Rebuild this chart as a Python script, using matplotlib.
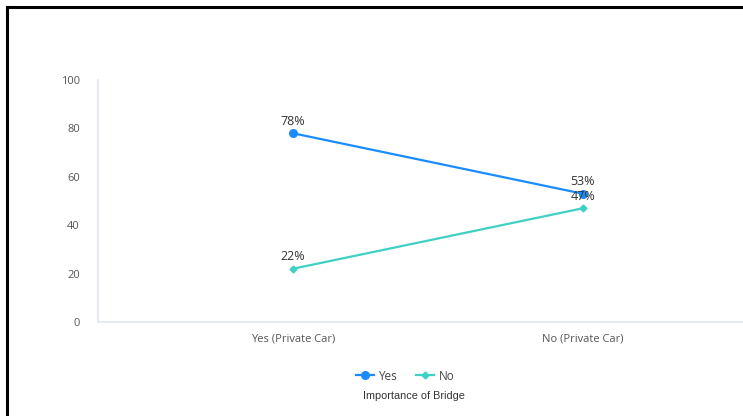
import matplotlib
matplotlib.use("Agg")
import matplotlib.pyplot as plt
from matplotlib.lines import Line2D

categories = ["Yes (Private Car)", "No (Private Car)"]
yes_vals = [78, 53]
no_vals = [22, 47]
yticks = [0, 20, 40, 60, 80, 100]

plt.rcParams['font.family'] = ['Open Sans', 'DejaVu Sans']

fig = plt.figure(figsize=(7.43, 4.16), dpi=100)
ax = fig.add_axes([98/743, 1-322/416, 1-98/743, (322-80)/416])

x = list(range(len(categories)))
c_yes = "#1a8cff"
c_no = "#3fd1c4"
ax.plot(x, yes_vals, color=c_yes, lw=1.6, marker="o", ms=5.5, label="Yes")
ax.plot(x, no_vals, color=c_no, lw=1.6, marker="D", ms=3.5, label="No")

for xi, v in zip(x, yes_vals):
    ax.annotate(f"{v}%", (xi, v), xytext=(0, 4), textcoords="offset points",
                ha="center", va="bottom", fontsize=9, color="#333333")
for xi, v in zip(x, no_vals):
    ax.annotate(f"{v}%", (xi, v), xytext=(0, 4), textcoords="offset points",
                ha="center", va="bottom", fontsize=9, color="#333333")

ax.set_ylim(0, 100)
ax.set_xlim(-0.672, 1.552)
ax.set_yticks(yticks)
ax.set_xticks(x)
ax.set_xticklabels(categories)
ax.tick_params(axis="both", length=0, labelsize=8, colors="#555555")
ax.tick_params(axis="y", pad=13)
ax.tick_params(axis="x", pad=8)
for s in ["top", "right"]:
    ax.spines[s].set_visible(False)
for s in ["left", "bottom"]:
    ax.spines[s].set_color("#dfe5f2")
    ax.spines[s].set_linewidth(1.2)

leg = fig.legend(loc="center", bbox_to_anchor=(405/743, 1-376/416), ncol=2,
                 frameon=False, fontsize=8.5, handlelength=1.5, columnspacing=1.6,
                 handletextpad=0.4, labelcolor="#444444")
fig.text(414/743, 1-396/416, "Importance of Bridge", ha="center", va="center",
         fontsize=7.8, color="#333333", family=["Liberation Sans", "DejaVu Sans"])

# document frame
fig.add_artist(Line2D([7/743, 7/743], [0, 1-7/416], transform=fig.transFigure, color="black", lw=2.2))
fig.add_artist(Line2D([7/743, 1], [1-7/416, 1-7/416], transform=fig.transFigure, color="black", lw=2.2))

fig.savefig("out.png", dpi=100)
